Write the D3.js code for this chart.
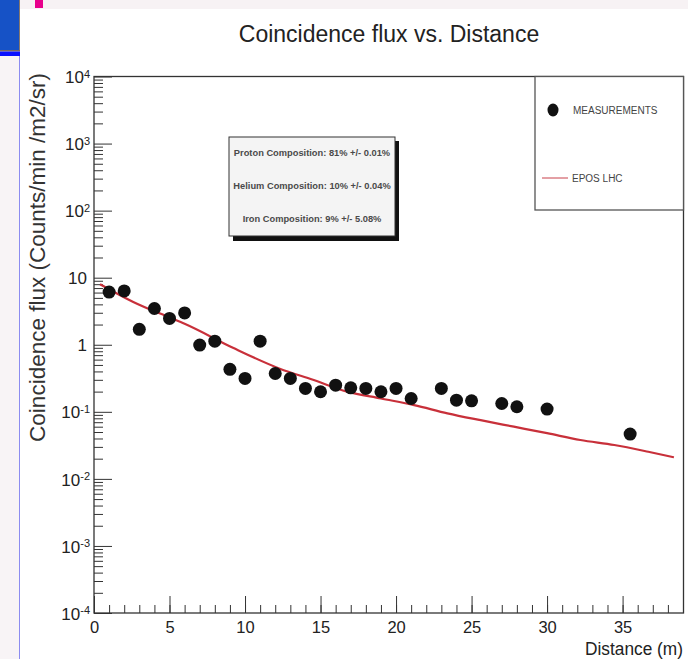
<!DOCTYPE html>
<html>
<head>
  <title>Coincidence flux vs. Distance</title>
  <script src="https://d3js.org/d3.v7.min.js"></script>
  <style>
    body { margin: 0; background: #fff; }
    text { font-family: "Liberation Sans", Arial, sans-serif; }
  </style>
</head>
<body>
  <div id="chart"></div>

  <script>
    // measured points
    const distance = [1, 2, 3, 4, 5, 6, 7, 8, 9, 10, 11, 12, 13, 14, 15, 16, 17, 18, 19, 20, 21, 23, 24, 25, 27, 28, 30, 35.5];
    const flux = [6.1, 6.35, 1.7, 3.47, 2.47, 2.98, 0.99, 1.13, 0.43, 0.315, 1.13, 0.373, 0.315, 0.223, 0.199, 0.25,
                  0.228, 0.223, 0.199, 0.223, 0.158, 0.223, 0.149, 0.146, 0.133, 0.119, 0.11, 0.0466];

    // EPOS LHC prediction
    const modelDistance = [0.4, 2.6, 5, 6, 9.2, 12.3, 14.5, 16.75, 19, 21.2, 23.4, 25.6, 27.8, 30, 32.2, 34.45, 36.7, 38.4];
    const modelFlux = [8.0, 4.35, 2.55, 2.05, 0.9, 0.44, 0.3, 0.2, 0.158, 0.126, 0.095, 0.075, 0.06, 0.048, 0.038, 0.032, 0.0254, 0.021];

    // axis ticks
    const xMajor = [0, 5, 10, 15, 20, 25, 30, 35];
    const xMinor = d3.range(0, 40);
    const yMajor = [1e-4, 1e-3, 1e-2, 1e-1, 1, 10, 1e2, 1e3, 1e4];
    const yBase = ["10", "10", "10", "10", "1", "10", "10", "10", "10"];
    const yExp = ["-4", "-3", "-2", "-1", "", "", "2", "3", "4"];

    const compositions = [
      "Proton Composition: 81% +/- 0.01%",
      "Helium Composition: 10% +/- 0.04%",
      "Iron Composition: 9% +/- 5.08%"
    ];

    const W = 688, H = 659;
    const plotLeft = 94, plotRight = 683.5, plotTop = 76.5, plotBottom = 613;

    const svg = d3.select("#chart").append("svg")
      .attr("width", W)
      .attr("height", H);

    // slide decoration around the picture
    svg.append("rect").attr("x", 0).attr("y", 0).attr("width", W).attr("height", 9).attr("fill", "#f7f2f4");
    svg.append("rect").attr("x", 0).attr("y", 56).attr("width", 19).attr("height", H - 56).attr("fill", "#f8f4f6");
    svg.append("rect").attr("x", 0).attr("y", 0).attr("width", 19).attr("height", 50).attr("fill", "#1652c6");
    svg.append("rect").attr("x", 0).attr("y", 50).attr("width", 20).attr("height", 1.5).attr("fill", "#7a6a62");
    svg.append("rect").attr("x", 0).attr("y", 51.5).attr("width", 20).attr("height", 4.5).attr("fill", "#0a10ff");
    svg.append("line").attr("x1", 19.5).attr("x2", 19.5).attr("y1", 0).attr("y2", 50).attr("stroke", "#857870");
    svg.append("line").attr("x1", 19.5).attr("x2", 19.5).attr("y1", 56).attr("y2", H).attr("stroke", "#8c8cf0");
    svg.append("rect").attr("x", 35).attr("y", 0).attr("width", 8).attr("height", 8).attr("fill", "#e8008c");

    const x = d3.scaleLinear().domain([0, 39]).range([plotLeft, plotRight - 0.5]);
    const y = d3.scaleLog().domain([1e-4, 1e4]).range([plotBottom, plotTop]);

    // x axis: minor then major ticks, drawn inward
    svg.append("g")
      .attr("transform", "translate(0," + plotBottom + ")")
      .call(d3.axisBottom(x).tickValues(xMinor).tickSizeInner(-8).tickSizeOuter(0).tickFormat(""))
      .call(g => g.select(".domain").remove());

    svg.append("g")
      .attr("transform", "translate(0," + plotBottom + ")")
      .call(d3.axisBottom(x).tickValues(xMajor).tickSizeInner(-17).tickSizeOuter(0).tickPadding(8))
      .call(g => g.select(".domain").remove())
      .selectAll("text")
      .style("font-size", "16.5px")
      .attr("fill", "#222");

    // y axis
    const yMinor = [];
    for (let k = -4; k < 4; k++) {
      for (let m = 2; m <= 9; m++) yMinor.push(m * Math.pow(10, k));
    }
    svg.append("g")
      .attr("transform", "translate(" + plotLeft + ",0)")
      .call(d3.axisLeft(y).tickValues(yMinor).tickSizeInner(-9).tickSizeOuter(0).tickFormat(""))
      .call(g => g.select(".domain").remove());

    const yAxis = svg.append("g")
      .attr("transform", "translate(" + plotLeft + ",0)")
      .call(d3.axisLeft(y).tickValues(yMajor).tickSizeInner(-18).tickSizeOuter(0).tickFormat(""))
      .call(g => g.select(".domain").remove());

    yAxis.selectAll(".tick text").each(function(d, i) {
      const t = d3.select(this)
        .attr("x", yExp[i] ? -4 : -7)
        .attr("dy", "0.36em")
        .style("font-size", "17px")
        .attr("fill", "#222")
        .text(yBase[i]);
      if (yExp[i]) {
        t.append("tspan")
          .attr("dy", "-0.5em")
          .style("font-size", "11px")
          .text(yExp[i]);
      }
    });

    svg.selectAll(".tick line").attr("stroke", "#333");

    // frame
    svg.append("rect")
      .attr("x", plotLeft).attr("y", plotTop)
      .attr("width", plotRight - plotLeft).attr("height", plotBottom - plotTop)
      .attr("fill", "none")
      .attr("stroke", "#333")
      .attr("stroke-width", 1.3);

    // model curve
    const line = d3.line()
      .x((d, i) => x(modelDistance[i]))
      .y(d => y(d))
      .curve(d3.curveMonotoneX);

    svg.append("path")
      .datum(modelFlux)
      .attr("d", line)
      .attr("fill", "none")
      .attr("stroke", "#c8303a")
      .attr("stroke-width", 2.2);

    // measurements
    svg.selectAll(".pt")
      .data(flux)
      .enter()
      .append("circle")
      .attr("class", "pt")
      .attr("cx", (d, i) => x(distance[i]))
      .attr("cy", d => y(d))
      .attr("r", 6.5)
      .attr("fill", "#111");

    // composition box
    svg.append("rect")
      .attr("x", 233).attr("y", 141).attr("width", 166).attr("height", 100)
      .attr("fill", "#111");
    svg.append("rect")
      .attr("x", 229).attr("y", 137).attr("width", 166).attr("height", 99)
      .attr("fill", "#f4f4f4")
      .attr("stroke", "#333");
    svg.selectAll(".comp")
      .data(compositions)
      .enter()
      .append("text")
      .attr("class", "comp")
      .attr("x", 312)
      .attr("y", (d, i) => 156 + i * 33)
      .attr("text-anchor", "middle")
      .style("font-size", "9.3px")
      .style("font-weight", "bold")
      .attr("fill", "#4a4a4a")
      .text(d => d);

    // legend
    svg.append("rect")
      .attr("x", 535).attr("y", plotTop)
      .attr("width", plotRight - 535).attr("height", 210 - plotTop)
      .attr("fill", "#fff")
      .attr("stroke", "#555")
      .attr("stroke-width", 1.3);
    svg.append("ellipse")
      .attr("cx", 553).attr("cy", 110).attr("rx", 5.5).attr("ry", 6.5)
      .attr("fill", "#111");
    svg.append("text")
      .attr("x", 573).attr("y", 114)
      .style("font-size", "10px")
      .attr("fill", "#444")
      .text("MEASUREMENTS");
    svg.append("line")
      .attr("x1", 542).attr("x2", 568).attr("y1", 178).attr("y2", 178)
      .attr("stroke", "#c8404a");
    svg.append("text")
      .attr("x", 572).attr("y", 182)
      .style("font-size", "10px")
      .attr("fill", "#444")
      .text("EPOS LHC");

    // titles
    svg.append("text")
      .attr("x", 389).attr("y", 42)
      .attr("text-anchor", "middle")
      .style("font-size", "23px")
      .attr("fill", "#222")
      .text("Coincidence flux vs. Distance");

    svg.append("text")
      .attr("transform", "translate(45,73) rotate(-90)")
      .attr("text-anchor", "end")
      .style("font-size", "22.5px")
      .attr("fill", "#333")
      .text("Coincidence flux (Counts/min /m2/sr)");

    svg.append("text")
      .attr("transform", "translate(683,655) scale(0.935,1)")
      .attr("text-anchor", "end")
      .style("font-size", "18.5px")
      .attr("fill", "#222")
      .text("Distance (m)");
  </script>
</body>
</html>
